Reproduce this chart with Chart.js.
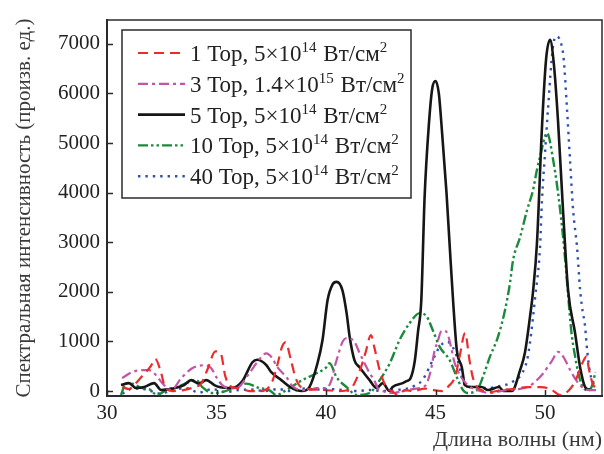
<!DOCTYPE html>
<html>
<head>
<meta charset="utf-8">
<script src="https://cdn.jsdelivr.net/npm/chart.js@4.4.1/dist/chart.umd.min.js"></script>
<style>
  html, body { margin: 0; padding: 0; background: #fff; }
  #wrap { width: 604px; height: 454px; }
</style>
</head>
<body>
<div id="wrap"><canvas id="spectra" width="604" height="454"></canvas></div>
<script>
// ─── Данные ───────────────────────────────────────────────────────

const X_TICKS = [30, 35, 40, 45, 50];
const Y_TICKS = [0, 1000, 2000, 3000, 4000, 5000, 6000, 7000];

const LEG_PRESSURE = ['1 Тор', '3 Тор', '5 Тор', '10 Тор', '40 Тор'];
const LEG_MANTISSA = ['5', '1.4', '5', '5', '5'];
const LEG_EXPONENT = ['14', '15', '14', '14', '14'];

// 1 Тор
const RED_X = [30.7, 31.0, 31.3, 31.6, 32.0, 32.2, 32.45, 32.65, 33.0, 33.5, 34.0, 34.3, 34.6, 34.95, 35.2, 35.4, 35.7, 36.0, 36.5, 37.0, 37.5, 37.75, 38.0, 38.15, 38.4, 38.6, 38.8, 39.2, 40.0, 40.6, 41.1, 41.5, 41.8, 42.05, 42.2, 42.45, 42.75, 43.0, 43.3, 43.6, 44.0, 44.5, 44.9, 45.3, 45.6, 45.9, 46.1, 46.35, 46.55, 46.7, 46.9, 47.2, 47.5, 48.0, 48.5, 49.2, 49.8, 50.25, 50.7, 51.1, 51.4, 51.7, 51.9, 52.0, 52.15, 52.3];
const RED_Y = [80, 40, 150, 300, 500, 650, 400, 80, 0, 20, 80, 150, 450, 800, 750, 300, 80, 60, 0, 0, 150, 480, 900, 980, 620, 280, 100, 40, 20, 0, 40, 360, 770, 1130, 890, 420, 80, 0, -80, 20, 0, 50, 20, 0, 100, 300, 700, 1170, 620, 280, 80, 0, -20, 20, 40, 80, 80, 40, -80, 20, 220, 560, 700, 450, 180, 50];

// 3 Тор
const MAG_X = [30.69, 31.14, 31.56, 31.92, 32.24, 32.52, 32.93, 33.39, 33.89, 34.44, 34.76, 34.99, 35.26, 35.58, 35.9, 36.5, 36.82, 37.28, 37.55, 37.78, 38.19, 38.47, 38.88, 39.24, 39.57, 40.02, 40.25, 40.39, 40.53, 40.76, 40.98, 41.3, 41.53, 41.76, 41.99, 42.22, 42.36, 42.59, 43.0, 43.5, 43.96, 44.42, 44.6, 44.8, 44.95, 45.1, 45.25, 45.4, 45.55, 45.7, 45.85, 46.0, 46.3, 46.6, 46.9, 47.5, 48.2, 48.8, 49.2, 49.45, 49.9, 50.3, 50.6, 50.85, 51.15, 51.45, 51.75, 52.06, 52.4];
const MAG_Y = [260, 380, 420, 420, 320, 160, 20, 260, 460, 520, 460, 280, 120, 60, 60, 360, 560, 760, 660, 480, 280, 100, 20, 20, 60, 60, 220, 480, 690, 1000, 1070, 990, 770, 560, 360, 200, 60, 0, -40, 0, 40, 80, 150, 450, 800, 1000, 1200, 1220, 1150, 900, 600, 420, 200, 80, 20, -40, 20, 40, 80, 150, 350, 600, 790, 680, 420, 200, 60, 20, 20];

// 5 Тор
const BLACK_X = [30.64, 31.0, 31.33, 31.7, 32.15, 32.47, 32.97, 33.52, 33.84, 34.2, 34.53, 34.9, 35.13, 35.72, 36.18, 36.64, 36.86, 37.28, 37.5, 37.96, 38.3, 38.65, 38.9, 39.24, 39.61, 39.84, 40.07, 40.3, 40.48, 40.75, 40.94, 41.08, 41.3, 41.53, 41.99, 42.31, 42.59, 42.9, 43.04, 43.5, 43.68, 43.85, 44.05, 44.2, 44.35, 44.5, 44.7, 44.85, 45.0, 45.15, 45.3, 45.5, 45.65, 45.8, 45.97, 46.2, 46.34, 46.6, 47.1, 47.4, 47.9, 48.1, 48.49, 48.86, 49.08, 49.31, 49.45, 49.63, 49.86, 50.05, 50.23, 50.4, 50.59, 50.82, 51.05, 51.37, 51.6, 51.83, 52.06];
const BLACK_Y = [120, 160, 60, 80, 160, 20, 50, 120, 220, 150, 220, 120, 80, 60, 200, 580, 630, 520, 380, 220, 100, 20, 0, 80, 560, 1030, 1830, 2150, 2200, 2030, 1570, 1090, 620, 480, 220, 60, 160, 0, 80, 160, 200, 250, 600, 1200, 1830, 3900, 5400, 6100, 6250, 6000, 5200, 4000, 2900, 1830, 830, 480, 120, 80, 80, 20, 80, 0, 0, 420, 770, 1490, 2000, 2980, 5320, 6700, 7080, 6600, 5460, 3650, 2040, 1170, 480, 80, 20];

// 10 Тор
const GREEN_X = [30.64, 30.87, 31.14, 31.6, 31.92, 32.29, 32.7, 33.2, 33.62, 34.07, 34.35, 34.8, 35.26, 35.9, 36.36, 36.96, 37.41, 37.73, 38.19, 38.92, 39.57, 40.02, 40.16, 40.48, 40.94, 41.4, 41.99, 42.45, 42.91, 43.36, 43.82, 44.28, 44.6, 44.87, 45.19, 45.65, 45.97, 46.25, 46.43, 46.89, 47.16, 47.48, 47.85, 48.17, 48.4, 48.54, 48.86, 49.18, 49.45, 49.63, 49.77, 50.09, 50.37, 50.69, 50.92, 51.05, 51.2, 51.37, 51.5, 51.65, 51.9, 52.1, 52.3];
const GREEN_Y = [-80, 160, 150, 60, 40, -80, 20, 80, 160, 220, 80, -40, -20, 80, 150, 60, 20, -80, 20, 220, 360, 480, 560, 280, 80, -80, -40, 220, 560, 1030, 1370, 1570, 1500, 1230, 890, 620, 280, 20, -40, 20, 280, 690, 1090, 1630, 2180, 2640, 3100, 3650, 4050, 4460, 4720, 5200, 4660, 3650, 2640, 1950, 1200, 700, 400, 150, 20, 60, 380];

// 40 Тор
const BLUE_X = [30.7, 31.2, 31.8, 32.4, 33.0, 33.6, 34.2, 34.8, 35.4, 36.0, 36.6, 37.2, 37.8, 38.4, 39.0, 39.6, 40.2, 40.8, 41.4, 42.0, 42.6, 43.2, 43.8, 44.1, 44.4, 44.87, 45.2, 45.55, 45.78, 45.97, 46.2, 46.43, 46.9, 47.4, 47.9, 48.17, 48.49, 48.95, 49.18, 49.31, 49.55, 49.77, 49.86, 50.0, 50.14, 50.35, 50.5, 50.7, 50.85, 51.0, 51.14, 51.28, 51.46, 51.6, 51.69, 51.83, 51.92, 52.06, 52.29];
const BLUE_Y = [-50, 50, 30, -50, 20, 60, -30, 40, -20, 20, 30, 0, 40, 0, 50, 30, 40, 20, 0, 20, 0, 20, 60, 120, 220, 620, 900, 990, 890, 690, 280, 80, 80, 60, 100, 120, 180, 360, 625, 970, 1900, 2900, 3850, 4800, 5720, 6900, 7150, 7050, 6700, 5700, 4660, 3650, 2900, 2040, 1690, 1290, 830, 360, 80];

// ─── Оформление ───────────────────────────────────────────────────

const SERIES = [
  { xs: RED_X,   ys: RED_Y,   color: '#ec2b2b', width: 2.2, dash: [10, 6] },
  { xs: MAG_X,   ys: MAG_Y,   color: '#c255a6', width: 2.2, dash: [10, 4, 3, 4] },
  { xs: BLACK_X, ys: BLACK_Y, color: '#161616', width: 2.6, dash: [] },
  { xs: GREEN_X, ys: GREEN_Y, color: '#1b8a3c', width: 2.4, dash: [10, 3, 2.5, 3, 2.5, 3] },
  { xs: BLUE_X,  ys: BLUE_Y,  color: '#2f4fb3', width: 2.4, dash: [2.4, 5] },
];

const SUP = { '0': '⁰', '1': '¹', '2': '²', '3': '³', '4': '⁴', '5': '⁵' };
const toSup = s => s.split('').map(c => SUP[c] || c).join('');

const SERIF = '"Liberation Serif", "Times New Roman", serif';

const datasets = SERIES.map((s, i) => ({
  label: `${LEG_PRESSURE[i]}, ${LEG_MANTISSA[i]}×10${toSup(LEG_EXPONENT[i])} Вт/см²`,
  data: s.xs.map((x, k) => ({ x, y: s.ys[k] })),
  borderColor: s.color,
  backgroundColor: s.color,
  borderWidth: s.width,
  borderDash: s.dash,
  borderCapStyle: 'butt',
  borderJoinStyle: 'round',
  pointRadius: 0,
  cubicInterpolationMode: 'monotone',
  fill: false,
}));

// рамка, внутренние штрихи и легенда с верхними индексами
const frameLegend = {
  id: 'frameLegend',
  afterDraw(chart) {
    const { ctx, chartArea: a, scales: { x, y } } = chart;
    ctx.save();
    ctx.strokeStyle = '#2b2b2b';
    ctx.lineWidth = 1.5;
    ctx.setLineDash([]);
    ctx.strokeRect(a.left, a.top, a.right - a.left, a.bottom - a.top);

    ctx.beginPath();
    X_TICKS.forEach(v => {
      const px = Math.round(x.getPixelForValue(v)) + 0.5;
      ctx.moveTo(px, a.bottom); ctx.lineTo(px, a.bottom - 6);
    });
    Y_TICKS.forEach(v => {
      const py = Math.round(y.getPixelForValue(v)) + 0.5;
      ctx.moveTo(a.left, py); ctx.lineTo(a.left + 6, py);
    });
    ctx.stroke();

    // легенда
    const bx = a.left + 15, by = a.top + 10, bw = 289, bh = 168;
    ctx.fillStyle = '#fff';
    ctx.fillRect(bx, by, bw, bh);
    ctx.strokeStyle = '#2b2b2b';
    ctx.lineWidth = 1.5;
    ctx.strokeRect(bx, by, bw, bh);

    const big = `23px ${SERIF}`, small = `15px ${SERIF}`;
    SERIES.forEach((s, i) => {
      const ly = by + 23 + i * 30.8;
      ctx.strokeStyle = s.color;
      ctx.lineWidth = s.width;
      ctx.setLineDash(s.dash);
      ctx.beginPath();
      ctx.moveTo(bx + 16, ly); ctx.lineTo(bx + 63, ly);
      ctx.stroke();
      ctx.setLineDash([]);

      ctx.fillStyle = '#222';
      ctx.textBaseline = 'alphabetic';
      const base = ly + 8;
      let tx = bx + 68;
      const parts = [
        [`${LEG_PRESSURE[i]}, ${LEG_MANTISSA[i]}×10`, false],
        [LEG_EXPONENT[i], true],
        [' Вт/см', false],
        ['2', true],
      ];
      parts.forEach(([t, sup]) => {
        ctx.font = sup ? small : big;
        ctx.fillText(t, tx, sup ? base - 9 : base);
        tx += ctx.measureText(t).width + (sup ? 1 : 0);
      });
    });
    ctx.restore();
  },
};

new Chart(document.getElementById('spectra'), {
  type: 'line',
  data: { datasets },
  options: {
    responsive: false,
    animation: false,
    devicePixelRatio: 1,
    layout: { padding: { top: 20, right: 2, left: 0, bottom: 0 } },
    plugins: {
      legend: { display: false },
      tooltip: { enabled: false },
    },
    scales: {
      x: {
        type: 'linear',
        min: 30,
        max: 52.6,
        afterBuildTicks: s => { s.ticks = X_TICKS.map(v => ({ value: v })); },
        afterFit: s => { s.height = 58; },
        grid: { drawOnChartArea: false, drawTicks: false },
        border: { display: true, color: '#2b2b2b', width: 2 },
        ticks: { padding: 5, color: '#222', font: { family: SERIF, size: 21 }, maxRotation: 0, callback: v => String(v) },
        title: {
          display: true,
          text: 'Длина волны (нм)',
          align: 'end',
          color: '#3a3a3a',
          font: { family: SERIF, size: 22 },
          padding: { top: 0, bottom: 1 },
        },
      },
      y: {
        min: -100,
        max: 7480,
        afterBuildTicks: s => { s.ticks = Y_TICKS.map(v => ({ value: v })); },
        afterFit: s => { s.width = 107; },
        grid: { drawOnChartArea: false, drawTicks: false },
        border: { display: true, color: '#2b2b2b', width: 2 },
        ticks: { padding: 7, color: '#222', font: { family: SERIF, size: 21 }, callback: v => String(v) },
        title: {
          display: true,
          text: 'Спектральная интенсивность (произв. ед.)',
          color: '#3a3a3a',
          font: { family: SERIF, size: 21 },
          padding: { top: 12, bottom: 0 },
        },
      },
    },
  },
  plugins: [frameLegend],
});
</script>
</body>
</html>
